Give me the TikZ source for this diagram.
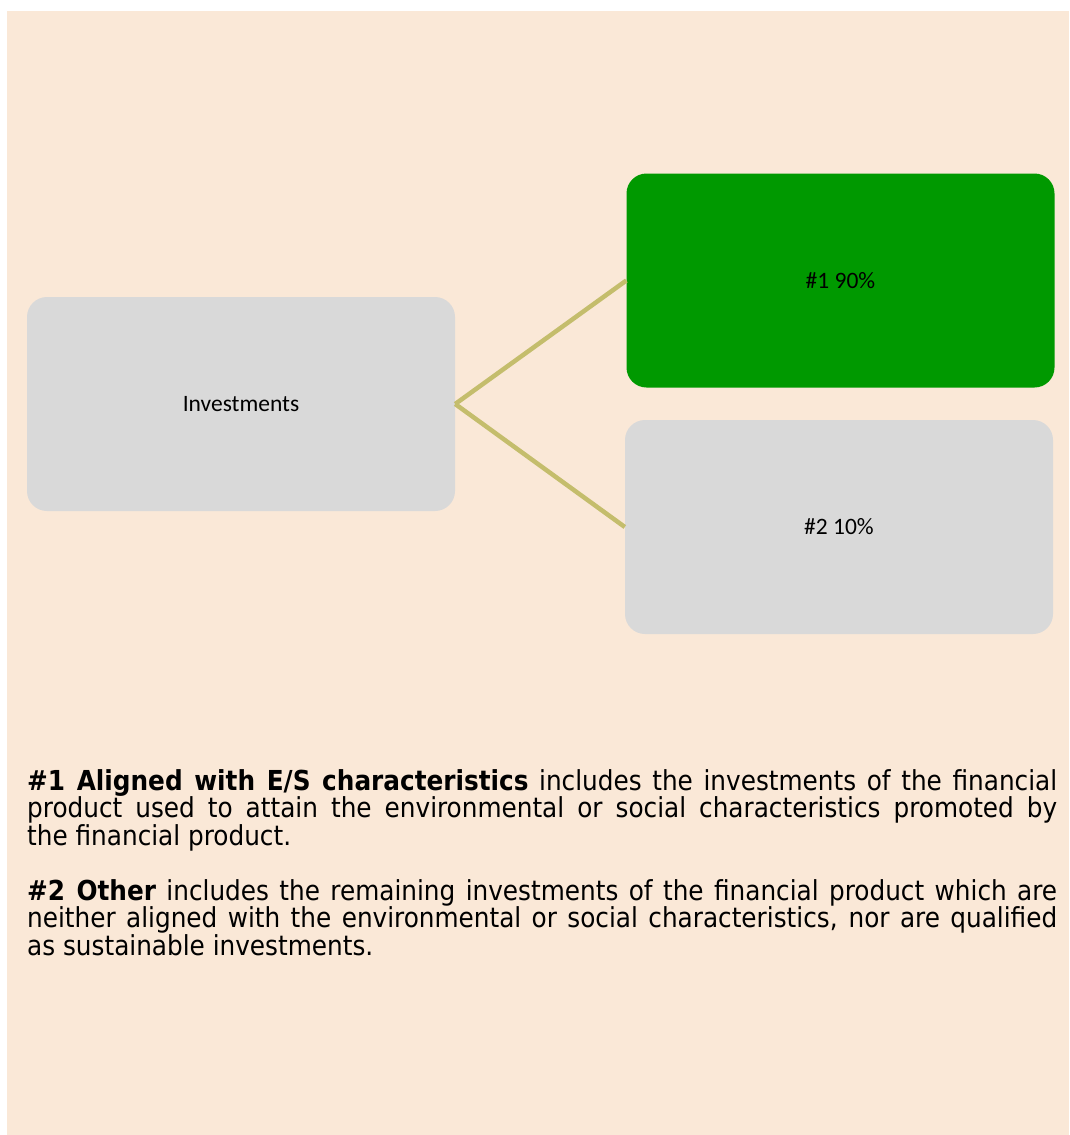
\documentclass[tikz,border=0pt]{standalone}
\usepackage{fontspec}
\setmainfont{DejaVu Sans Condensed}
\newfontfamily\boxfont{Carlito}
\definecolor{peach}{RGB}{250,232,215}
\definecolor{boxgray}{RGB}{217,217,217}
\definecolor{boxgreen}{RGB}{0,153,0}
\definecolor{olive}{RGB}{196,189,108}
\tikzset{
  box/.style={rectangle, rounded corners=20pt, minimum width=428pt, minimum height=214pt,
    inner sep=0pt, font=\boxfont\fontsize{23.5}{26}\selectfont, text=black},
  link/.style={draw=olive, line width=4.5pt},
  para/.style={anchor=base west, inner sep=0pt, text width=1030pt, align=justify,
    font=\fontsize{27.5}{26.5}\selectfont}
}
\begin{document}
\begin{tikzpicture}[x=1pt,y=-1pt]
\useasboundingbox (0,0) rectangle (1069,1135);
\fill[peach] (7,11) rectangle (1069,1135);
\node[box, fill=boxgray] (inv) at (241,404) {Investments};
\node[box, fill=boxgreen] (one) at (840.5,280.5) {\#1 90\%};
\node[box, fill=boxgray] (two) at (839,527) {\#2 10\%};
\draw[link] (inv.east) -- (one.west);
\draw[link] (inv.east) -- (two.west);
\node[para] (p1) at (27,790) {\textbf{\#1 Aligned with E/S characteristics} includes the investments of the financial\linebreak product used to attain the environmental or social characteristics promoted by\linebreak the financial product.};
\node[para] (p2) at (27,900) {\textbf{\#2 Other} includes the remaining investments of the financial product which are\linebreak neither aligned with the environmental or social characteristics, nor are qualified\linebreak as sustainable investments.};
\end{tikzpicture}
\end{document}
